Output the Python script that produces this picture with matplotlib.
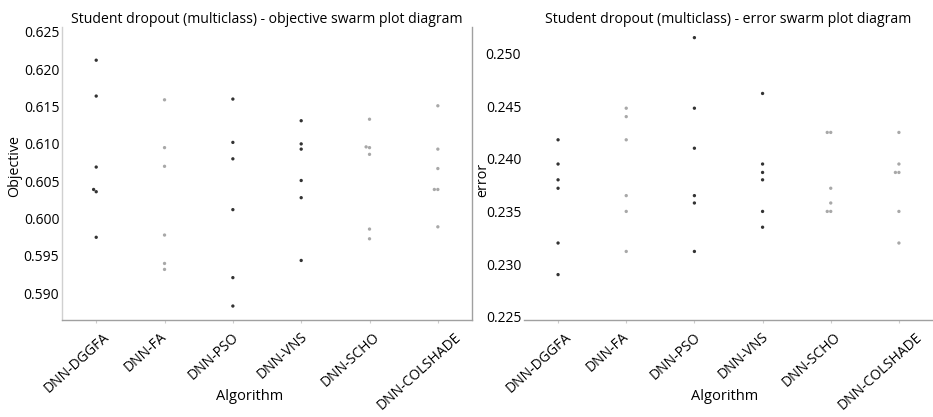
import numpy as np
import pandas as pd
import matplotlib
matplotlib.use("Agg")
import matplotlib.pyplot as plt
import matplotlib.transforms as mtransforms
import seaborn as sns

algorithms = ["DNN-DGGFA", "DNN-FA", "DNN-PSO", "DNN-VNS", "DNN-SCHO", "DNN-COLSHADE"]

# objective values
objective = {
    "DNN-DGGFA": [0.6212, 0.6164, 0.6069, 0.6039, 0.6036, 0.5975],
    "DNN-FA": [0.6159, 0.6095, 0.6070, 0.5978, 0.5940, 0.5932],
    "DNN-PSO": [0.6160, 0.6102, 0.6080, 0.6012, 0.5921, 0.5883],
    "DNN-VNS": [0.6131, 0.6100, 0.6093, 0.6051, 0.6028, 0.5944],
    "DNN-SCHO": [0.6133, 0.6096, 0.6095, 0.6086, 0.5986, 0.5973],
    "DNN-COLSHADE": [0.6151, 0.6093, 0.6067, 0.6039, 0.6039, 0.5989],
}

# error values
error = {
    "DNN-DGGFA": [0.2418, 0.2395, 0.2380, 0.2372, 0.2320, 0.2290],
    "DNN-FA": [0.2448, 0.2440, 0.2418, 0.2365, 0.2350, 0.2312],
    "DNN-PSO": [0.2515, 0.2448, 0.2410, 0.2365, 0.2358, 0.2312],
    "DNN-VNS": [0.2462, 0.2395, 0.2387, 0.2380, 0.2350, 0.2335],
    "DNN-SCHO": [0.2425, 0.2425, 0.2372, 0.2358, 0.2350, 0.2350],
    "DNN-COLSHADE": [0.2425, 0.2395, 0.2387, 0.2387, 0.2350, 0.2320],
}

dot_colors = ["#333333", "#a8a8a8", "#333333", "#333333", "#a8a8a8", "#a8a8a8"]

plt.rcParams["font.family"] = ["Open Sans", "DejaVu Sans"]


def to_frame(d, name):
    rows = [(alg, v) for alg in algorithms for v in d[alg]]
    return pd.DataFrame(rows, columns=["Algorithm", name])


fig = plt.figure(figsize=(9.33, 4.17), dpi=100)
ax1 = fig.add_axes([0.0665, 0.2326, 0.4394, 0.7024])
ax2 = fig.add_axes([0.5616, 0.2326, 0.4384, 0.7024])

panels = [
    (ax1, objective, "Objective", "Student dropout (multiclass) - objective swarm plot diagram",
     (0.58643, 0.62563), 0.4585),
    (ax2, error, "error", "Student dropout (multiclass) - error swarm plot diagram",
     (0.22469, 0.2525), 0.4907),
]

# labels sit a bit left of their ticks in the original
shift = mtransforms.ScaledTranslation(-0.19, 0, fig.dpi_scale_trans)

for ax, data, name, title, ylim, xlab_x in panels:
    df = to_frame(data, name)
    sns.swarmplot(data=df, x="Algorithm", y=name, hue="Algorithm", palette=dot_colors,
                  size=2.4, legend=False, ax=ax)
    ax.set_xlim(-0.5, 5.5)
    ax.set_ylim(*ylim)
    ax.set_title(title, fontsize=10.1, pad=3)
    ax.set_xlabel("Algorithm", fontsize=10.5, va="center")
    ax.xaxis.set_label_coords(xlab_x, -0.262)
    ax.set_ylabel(name, fontsize=10.3, va="center")
    ax.set_xticks(range(len(algorithms)))
    ax.set_xticklabels(algorithms, rotation=42, ha="center", fontsize=10.1)
    ax.tick_params(axis="y", length=0, labelsize=10, pad=2)
    ax.tick_params(axis="x", length=2, color="#cccccc", pad=5)
    for lab in ax.get_xticklabels():
        lab.set_transform(lab.get_transform() + shift)
    ax.yaxis.set_major_formatter(matplotlib.ticker.FormatStrFormatter("%.3f"))
    ax.spines["top"].set_visible(False)
    for s in ax.spines.values():
        s.set_color("#a0a0a0")
        s.set_linewidth(1.0)

ax1.yaxis.set_label_coords(-0.115, 0.527)
ax2.yaxis.set_label_coords(-0.102, 0.478)

ax1.spines["left"].set_color("#d0d0d0")
ax2.spines["left"].set_visible(False)
ax2.spines["right"].set_visible(False)

fig.savefig("out.png", dpi=100)
